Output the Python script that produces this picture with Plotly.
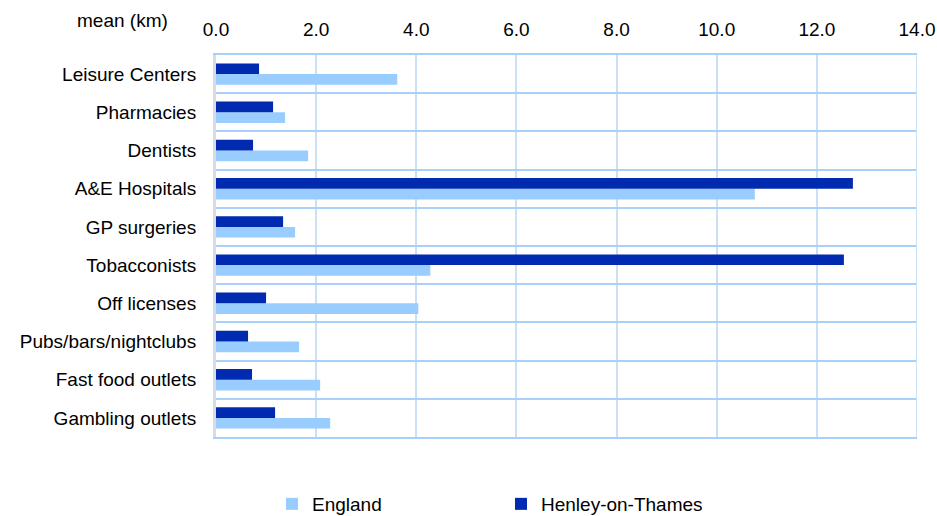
import plotly.graph_objects as go

categories = ["Leisure Centers", "Pharmacies", "Dentists", "A&E Hospitals", "GP surgeries",
              "Tobacconists", "Off licenses", "Pubs/bars/nightclubs", "Fast food outlets", "Gambling outlets"]
england = [3.62, 1.38, 1.84, 10.76, 1.58, 4.28, 4.04, 1.66, 2.08, 2.28]
henley = [0.86, 1.14, 0.74, 12.72, 1.34, 12.54, 1.00, 0.64, 0.72, 1.18]
x_ticks = [0, 2, 4, 6, 8, 10, 12, 14]

FONT = "Liberation Sans, Arial, sans-serif"
FS = 19

fig = go.Figure()
fig.add_trace(go.Bar(y=categories, x=england, orientation="h", name="England",
                     marker=dict(color="#99CCFF", line=dict(width=0))))
fig.add_trace(go.Bar(y=categories, x=henley, orientation="h", name="Henley-on-Thames",
                     marker=dict(color="#002BB0", line=dict(width=0))))

fig.update_layout(
    width=937, height=516,
    margin=dict(l=216, r=20, t=55, b=79, autoexpand=False),
    paper_bgcolor="white", plot_bgcolor="white",
    barmode="group", bargap=0.44, bargroupgap=0,
    font=dict(family=FONT, size=FS, color="black"),
    xaxis=dict(side="top", range=[0, 14], tickvals=x_ticks, tickformat=".1f",
               showgrid=True, gridcolor="#CCE0F5", gridwidth=2,
               showline=True, linecolor="#A8D0FA", linewidth=2, mirror=True,
               zeroline=False, ticks="", ticklabelstandoff=9, automargin=False,
               tickfont=dict(size=FS, family=FONT)),
    yaxis=dict(categoryorder="array", categoryarray=categories[::-1],
               tickson="boundaries", ticks="", showgrid=True, gridcolor="#A8D0FA", gridwidth=2,
               showline=True, linecolor="#D5DCE4", linewidth=3, automargin=False,
               ticklabelstandoff=13, tickfont=dict(size=FS, family=FONT)),
    legend=dict(orientation="h", xref="paper", yref="paper",
                x=(272 - 216) / 701, xanchor="left", y=-(504 - 437) / 382, yanchor="middle",
                entrywidth=184, entrywidthmode="pixels",
                font=dict(size=FS, family=FONT), traceorder="normal"),
    showlegend=True,
)
fig.add_annotation(text="mean (km)", xref="paper", yref="paper", x=-0.066, y=1.0,
                   xanchor="right", yanchor="bottom", yshift=22, showarrow=False,
                   font=dict(size=FS, family=FONT))
fig.add_shape(type="line", xref="x", yref="paper", x0=14, x1=14, y0=0, y1=1,
              line=dict(color="#CCE0F5", width=2))

fig.write_html("out.html", config={"displayModeBar": False},
               post_script="document.body.style.margin='0';document.body.style.overflow='hidden';")
